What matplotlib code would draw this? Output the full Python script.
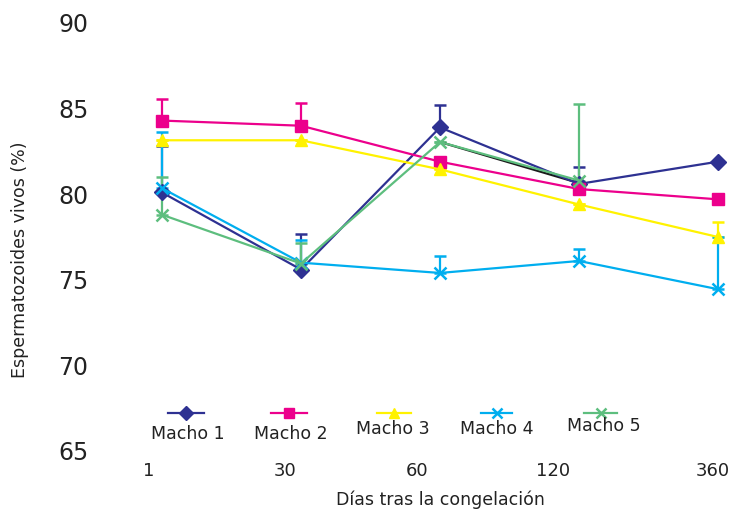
import numpy as np
import matplotlib
matplotlib.use('Agg')
import matplotlib.pyplot as plt
from matplotlib.lines import Line2D

# data
days = ['1', '30', '60', '120', '360']
x_pos = np.arange(len(days))

macho1 = [80.1, 75.6, 83.9, 80.6, 81.9]
macho2 = [84.3, 84.0, 81.9, 80.3, 79.7]
macho3 = [83.15, 83.15, 81.45, 79.4, 77.5]
macho4 = [80.35, 76.0, 75.4, 76.1, 74.45]
macho5 = [78.8, 75.95, 83.05, 80.8, np.nan]

# upper error bars only
err1 = [2.7, 2.05, 1.3, 1.0, 0.0]
err2 = [1.25, 1.3, 0.0, 0.0, 0.0]
err3 = [0.0, 0.0, 0.0, 0.0, 0.9]
err4 = [3.3, 1.3, 1.0, 0.7, 3.05]
err5 = [2.2, 1.2, 0.0, 4.45, 0.0]

# stray black segment between 60 and 120
black_x = [2, 3]
black_y = [83.05, 80.65]

names = ['Macho 1', 'Macho 2', 'Macho 3', 'Macho 4', 'Macho 5']
colors = ['#2E3192', '#EC008C', '#FFF200', '#00AEEF', '#5DBE7E']
markers = ['D', 's', '^', 'x', 'x']
msizes = [8, 8, 8, 9, 9]
series = [macho1, macho2, macho3, macho4, macho5]
errors = [err1, err2, err3, err4, err5]

W, H = 732, 513
fig = plt.figure(figsize=(W / 100, H / 100), dpi=100)
ax = fig.add_axes([130 / W, (H - 451) / H, 600 / W, (451 - 23) / H])

px0, pxstep = 162, 139
ax.set_xlim((130 - px0) / pxstep, (730 - px0) / pxstep)
ax.set_ylim(65, 90)

for vals, err, c in zip(series, errors, colors):
    lo = np.zeros(len(err))
    ax.errorbar(x_pos, vals, yerr=[lo, err], fmt='none', ecolor=c,
                elinewidth=1.6, capsize=4.5, capthick=1.8, zorder=2, clip_on=False)

ax.plot(black_x, black_y, color='#1a1a1a', lw=1.6, zorder=3)

for vals, c, m, ms in zip(series, colors, markers, msizes):
    ax.plot(x_pos, vals, color=c, lw=1.6, marker=m, markersize=ms,
            markeredgewidth=1.8 if m == 'x' else 1, zorder=4, clip_on=False)

for s in ax.spines.values():
    s.set_visible(False)

# tick labels sit a bit left of the points, as in the reference
label_px = [149, 285, 417, 553, 713]
ax.set_xticks([(p - px0) / pxstep for p in label_px])
ax.set_xticklabels(days, fontsize=13, color='#222222')
ax.set_yticks([65, 70, 75, 80, 85, 90])
ax.tick_params(axis='y', length=0, pad=30, labelsize=17, labelcolor='#222222')
ax.tick_params(axis='x', length=0, pad=8)

fig.text(20 / W, 1 - 260 / H, 'Espermatozoides vivos (%)', rotation=90,
         ha='center', va='center', fontsize=12.5, color='#222222')
fig.text(440 / W, 1 - 500 / H, 'Días tras la congelación',
         ha='center', va='center', fontsize=12.5, color='#222222')

# legend: handle above label
leg_line = [(168, 204, 413), (271, 307, 413), (377, 411, 413), (481, 512, 413), (584, 617, 413)]
leg_text = [(188, 434), (291, 434), (393, 429), (497, 429), (604, 426)]
for (x1, x2, y), (tx, ty), c, m, nm in zip(leg_line, leg_text, colors, markers, names):
    fig.add_artist(Line2D([x1 / W, x2 / W], [1 - y / H, 1 - y / H], color=c, lw=1.6,
                          transform=fig.transFigure))
    fig.add_artist(Line2D([(x1 + x2) / 2 / W], [1 - y / H], color=c, marker=m,
                          markersize=7, markeredgewidth=1.8 if m == 'x' else 1,
                          transform=fig.transFigure))
    fig.text(tx / W, 1 - ty / H, nm, ha='center', va='center', fontsize=12.5, color='#222222')

fig.savefig('out.png', dpi=100)
